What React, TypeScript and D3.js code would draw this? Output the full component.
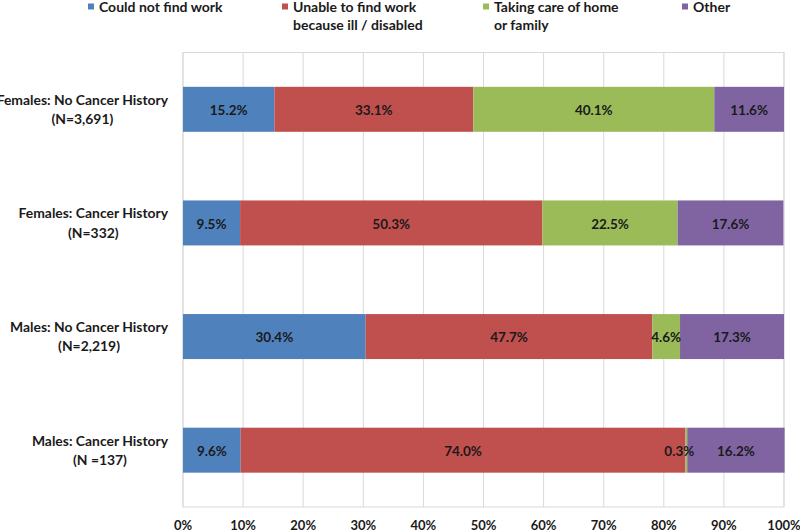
import React, { useEffect, useRef } from "react";
import * as d3 from "d3";

const categories = [
  "Females: No Cancer History",
  "Females: Cancer History",
  "Males: No Cancer History",
  "Males: Cancer History",
];
const categoryN = ["(N=3,691)", "(N=332)", "(N=2,219)", "(N =137)"];

const seriesNames = [
  ["Could not find work"],
  ["Unable to find work", "because ill / disabled"],
  ["Taking care of home", "or family"],
  ["Other"],
];
const couldNotFind = [15.2, 9.5, 30.4, 9.6];
const unableIll = [33.1, 50.3, 47.7, 74.0];
const takingCare = [40.1, 22.5, 4.6, 0.3];
const other = [11.6, 17.6, 17.3, 16.2];
const seriesValues = [couldNotFind, unableIll, takingCare, other];
const colors = ["#4F81BD", "#C0504D", "#9BBB59", "#8064A2"];
const ticks = [0, 10, 20, 30, 40, 50, 60, 70, 80, 90, 100];

const FONT = "Lato, 'Liberation Sans', sans-serif";

export default function App() {
  const ref = useRef<SVGSVGElement | null>(null);
  useEffect(() => {
    const svg = d3.select(ref.current);
    svg.selectAll("*").remove();
    const left = 183, right = 784, top = 52.5, bottom = 507;
    const x = d3.scaleLinear().domain([0, 100]).range([left, right]);
    const y = d3
      .scaleBand<string>()
      .domain(categories)
      .range([top, bottom])
      .paddingInner(0.604)
      .paddingOuter(0.302);

    const g = svg.append("g");
    g.append("rect")
      .attr("x", left).attr("y", top)
      .attr("width", right - left).attr("height", bottom - top)
      .attr("fill", "none").attr("stroke", "#D9D9D9").attr("stroke-width", 1);
    g.selectAll("line.grid")
      .data(ticks)
      .join("line")
      .attr("x1", (d) => x(d)).attr("x2", (d) => x(d))
      .attr("y1", top).attr("y2", bottom)
      .attr("stroke", "#D9D9D9").attr("stroke-width", 1);

    g.selectAll("text.tick")
      .data(ticks)
      .join("text")
      .attr("x", (d) => x(d))
      .attr("y", 525.5)
      .attr("dy", "0.35em")
      .attr("text-anchor", "middle")
      .attr("font-family", FONT)
      .attr("font-weight", "bold")
      .attr("font-size", 13)
      .attr("fill", "#1a1a1a")
      .text((d) => d + "%");

    categories.forEach((cat, i) => {
      let acc = 0;
      seriesValues.forEach((vals, s) => {
        const v = vals[i];
        const x0 = x(acc), x1 = x(acc + v);
        acc += v;
        g.append("rect")
          .attr("x", x0).attr("y", y(cat)!)
          .attr("width", x1 - x0).attr("height", y.bandwidth())
          .attr("fill", colors[s]);
      });
      acc = 0;
      seriesValues.forEach((vals) => {
        const v = vals[i];
        const cx = x(acc + v / 2);
        acc += v;
        g.append("text")
          .attr("x", v < 1 ? cx - 7 : cx)
          .attr("y", y(cat)! + y.bandwidth() / 2 + 1)
          .attr("dy", "0.35em")
          .attr("text-anchor", "middle")
          .attr("font-family", FONT)
          .attr("font-weight", "bold")
          .attr("font-size", 13.5)
          .attr("fill", "#1a1a1a")
          .text(v.toFixed(1) + "%");
      });
      const cy = y(cat)! + y.bandwidth() / 2;
      const t1 = g.append("text")
        .attr("x", 168).attr("y", cy - 9.5).attr("dy", "0.35em")
        .attr("text-anchor", "end")
        .attr("font-family", FONT).attr("font-weight", "bold")
        .attr("font-size", 13.9).attr("fill", "#1a1a1a")
        .text(cat);
      const w1 = (t1.node() as SVGTextElement).getComputedTextLength();
      g.append("text")
        .attr("x", 168 - w1 / 2).attr("y", cy + 10).attr("dy", "0.35em")
        .attr("text-anchor", "middle")
        .attr("font-family", FONT).attr("font-weight", "bold")
        .attr("font-size", 13.9).attr("fill", "#1a1a1a")
        .text(categoryN[i]);
    });

    const legendX = [88, 282, 483, 682];
    seriesNames.forEach((lines, s) => {
      g.append("rect")
        .attr("x", legendX[s]).attr("y", 3.5)
        .attr("width", 6).attr("height", 6)
        .attr("fill", colors[s]);
      lines.forEach((ln, k) => {
        g.append("text")
          .attr("x", legendX[s] + 11).attr("y", 7 + k * 18).attr("dy", "0.35em")
          .attr("font-family", FONT).attr("font-weight", "bold")
          .attr("font-size", 14).attr("fill", "#1a1a1a")
          .text(ln);
      });
    });
  }, []);
  return (
    <svg
      ref={ref}
      width={800}
      height={532}
      style={{ position: "absolute", left: 0, top: 0, background: "#fff" }}
    />
  );
}
